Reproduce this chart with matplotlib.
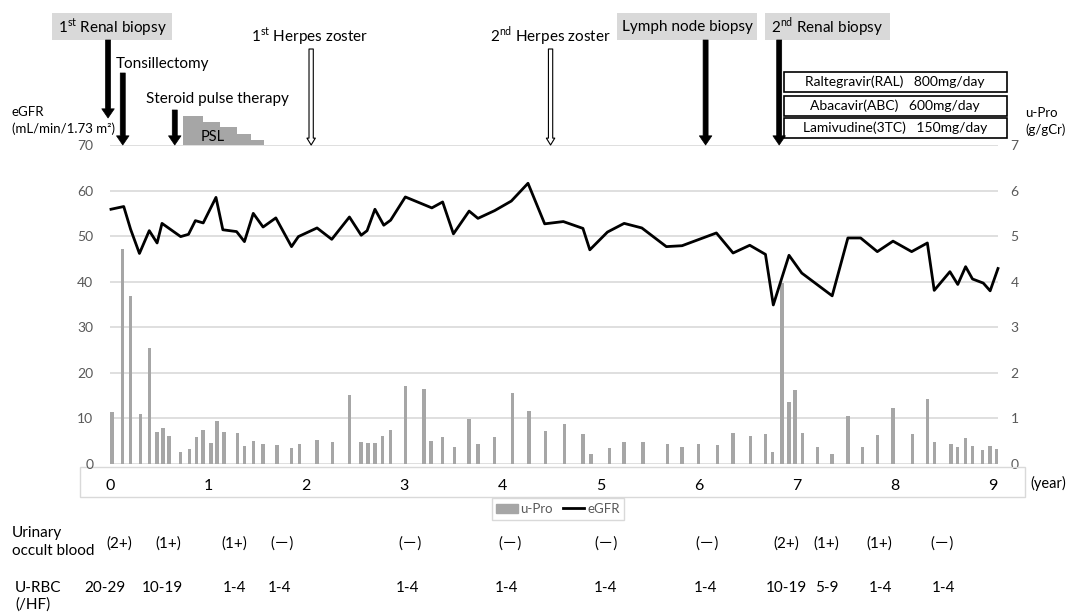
import matplotlib.pyplot as plt
import matplotlib.transforms as mtransforms
from matplotlib.patches import Rectangle, Patch
from matplotlib.lines import Line2D

plt.rcParams['font.family'] = ['Lato', 'Noto Sans CJK JP', 'DejaVu Sans']
plt.rcParams['mathtext.fontset'] = 'custom'
plt.rcParams['mathtext.rm'] = 'Lato'

W, H = 1066, 614

# eGFR (mL/min/1.73 m2), left axis
egfr_year = [0.01, 0.14, 0.21, 0.30, 0.40, 0.48, 0.53, 0.72, 0.80, 0.87, 0.95, 1.08,
             1.15, 1.29, 1.37, 1.46, 1.56, 1.69, 1.85, 1.92, 2.11, 2.26, 2.44, 2.56,
             2.62, 2.70, 2.79, 2.86, 3.01, 3.28, 3.39, 3.50, 3.66, 3.75, 3.92, 4.09,
             4.26, 4.43, 4.62, 4.82, 4.89, 5.07, 5.24, 5.42, 5.67, 5.83, 6.18, 6.35,
             6.52, 6.68, 6.76, 6.92, 7.05, 7.36, 7.52, 7.65, 7.82, 7.98, 8.17, 8.33,
             8.40, 8.56, 8.64, 8.72, 8.79, 8.90, 8.97, 9.05]
egfr = [55.9, 56.5, 51.5, 46.2, 51.2, 48.5, 52.8, 49.9, 50.4, 53.4, 52.9, 58.5,
        51.4, 51.0, 48.8, 55.0, 52.0, 54.0, 47.7, 49.9, 51.8, 49.3, 54.2, 50.2,
        51.2, 55.9, 52.4, 53.5, 58.6, 56.2, 57.5, 50.5, 55.5, 53.9, 55.6, 57.7,
        61.6, 52.7, 53.2, 51.7, 47.0, 50.9, 52.8, 51.8, 47.7, 47.9, 50.7, 46.3,
        48.0, 46.0, 34.9, 45.8, 41.9, 36.9, 49.6, 49.6, 46.6, 48.9, 46.6, 48.5,
        38.1, 42.2, 39.4, 43.3, 40.6, 39.7, 38.0, 42.9]

# urinary protein (g/gCr), right axis
upro_year = [0.02, 0.13, 0.21, 0.31, 0.40, 0.48, 0.54, 0.60, 0.72, 0.81, 0.88, 0.95,
             1.03, 1.09, 1.16, 1.30, 1.37, 1.46, 1.56, 1.70, 1.85, 1.93, 2.11, 2.27,
             2.44, 2.56, 2.63, 2.70, 2.78, 2.86, 3.01, 3.20, 3.27, 3.39, 3.51, 3.66,
             3.75, 3.92, 4.10, 4.27, 4.44, 4.63, 4.82, 4.90, 5.09, 5.24, 5.43, 5.68,
             5.83, 6.00, 6.19, 6.35, 6.53, 6.68, 6.75, 6.85, 6.92, 6.98, 7.06, 7.21,
             7.36, 7.52, 7.67, 7.82, 7.98, 8.18, 8.33, 8.40, 8.57, 8.64, 8.72, 8.79,
             8.89, 8.97, 9.04]
upro = [1.15, 4.72, 3.69, 1.09, 2.54, 0.70, 0.78, 0.61, 0.26, 0.33, 0.59, 0.75,
        0.46, 0.95, 0.70, 0.68, 0.39, 0.51, 0.44, 0.42, 0.36, 0.44, 0.52, 0.49,
        1.51, 0.49, 0.46, 0.46, 0.61, 0.74, 1.71, 1.65, 0.51, 0.60, 0.37, 0.99,
        0.44, 0.60, 1.56, 1.17, 0.73, 0.87, 0.65, 0.21, 0.36, 0.49, 0.49, 0.43,
        0.37, 0.43, 0.41, 0.69, 0.62, 0.65, 0.26, 3.97, 1.37, 1.63, 0.68, 0.38,
        0.21, 1.05, 0.37, 0.64, 1.23, 0.65, 1.42, 0.49, 0.43, 0.37, 0.56, 0.40,
        0.31, 0.40, 0.32]

# prednisolone taper (drawn as steps above the plot)
psl_start = [0.74, 0.95, 1.12, 1.29, 1.44]
psl_end = [0.95, 1.12, 1.29, 1.44, 1.57]
psl_level = [6.4, 5.0, 4.0, 2.4, 1.1]

# event times (years)
event_year = {'renal1': -0.02, 'tonsil': 0.13, 'steroid': 0.66, 'hz1': 2.05,
              'hz2': 4.49, 'lymph': 6.07, 'renal2': 6.82}

drugs = ['Raltegravir(RAL)   800mg/day', 'Abacavir(ABC)   600mg/day',
         'Lamivudine(3TC)   150mg/day']

occult_year = [0.10, 0.59, 1.27, 1.75, 3.06, 4.08, 5.06, 6.08, 6.89, 7.30, 7.84, 8.48]
occult = ['(2+)', '(1+)', '(1+)', '(－)', '(－)', '(－)', '(－)', '(－)',
          '(2+)', '(1+)', '(1+)', '(－)']
rbc_year = [-0.05, 0.53, 1.27, 1.73, 3.03, 4.04, 5.05, 6.07, 6.89, 7.31, 7.85, 8.49]
rbc = ['20-29', '10-19', '1-4', '1-4', '1-4', '1-4', '1-4', '1-4',
       '10-19', '5-9', '1-4', '1-4']

BAR = '#a6a6a6'
GRID = '#d9d9d9'
TICK = '#595959'


def fx(px):
    return px / W


def fy(py):
    return 1 - py / H


fig = plt.figure(figsize=(W / 100, H / 100), dpi=100)
ax = fig.add_axes([fx(110), fy(464), 888 / W, 319 / H])
ax2 = ax.twinx()

ax2.bar(upro_year, upro, width=0.035, color=BAR, zorder=2)
ax.plot(egfr_year, egfr, color='black', lw=2, zorder=3, clip_on=False)

ax.set_zorder(ax2.get_zorder() + 1)
ax.patch.set_visible(False)

ax.set_xlim(0, 9.05)
ax.set_ylim(0, 70)
ax2.set_ylim(0, 7)
ax.set_yticks(range(0, 71, 10))
ax2.set_yticks(range(0, 8))
ax2.grid(axis='y', color=GRID, lw=1.2, zorder=0)
ax2.set_axisbelow(True)
ax.set_xticks(range(10))
for a in (ax, ax2):
    for s in a.spines.values():
        s.set_visible(False)
ax.tick_params(axis='x', length=0, pad=11, labelsize=11.5)
ax.tick_params(axis='y', length=0, pad=12, labelcolor=TICK, labelsize=10)
ax2.tick_params(axis='y', length=0, pad=9, labelcolor=TICK, labelsize=10)

# x axis frame
fig.add_artist(Rectangle((fx(80), fy(497)), (1025 - 80) / W, 30 / H,
                         transform=fig.transFigure, fc='none', ec=GRID, lw=1))
fig.text(fx(1030), fy(483), '(year)', fontsize=10.5, va='center')

# PSL steps
for s, e, lv in zip(psl_start, psl_end, psl_level):
    ax.bar(s, lv, width=e - s, bottom=70, align='edge', color=BAR, clip_on=False)
fig.text(fx(213), fy(137), 'PSL', fontsize=10.5, ha='center', va='center')

trans = mtransforms.blended_transform_factory(ax.transData, fig.transFigure)


def arrow(year, top, tip, filled=True):
    if filled:
        style = 'simple,head_length=0.55,head_width=0.75,tail_width=0.3'
        props = dict(arrowstyle=style, fc='black', ec='black', lw=0.5,
                     mutation_scale=12, shrinkA=0, shrinkB=0)
    else:
        style = 'simple,head_length=0.45,head_width=0.55,tail_width=0.28'
        props = dict(arrowstyle=style, fc='white', ec='black', lw=0.8,
                     mutation_scale=11, shrinkA=0, shrinkB=0)
    ax.annotate('', xy=(year, fy(tip)), xycoords=trans, xytext=(year, fy(top)),
                textcoords=trans, arrowprops=props, annotation_clip=False)


def gray_box(x0, x1, label):
    fig.add_artist(Rectangle((fx(x0), fy(40)), (x1 - x0) / W, 27 / H,
                             transform=fig.transFigure, fc=GRID, ec='none'))
    fig.text(fx((x0 + x1) / 2), fy(27), label, fontsize=11, ha='center', va='center')


gray_box(52, 172, r'1$^{\mathrm{st}}$ Renal biopsy')
gray_box(617, 757, 'Lymph node biopsy')
gray_box(765, 890, r'2$^{\mathrm{nd}}$ Renal biopsy')

arrow(event_year['renal1'], 40, 118)
arrow(event_year['tonsil'], 73, 145)
arrow(event_year['steroid'], 110, 145)
arrow(event_year['hz1'], 49, 145, filled=False)
arrow(event_year['hz2'], 49, 145, filled=False)
arrow(event_year['lymph'], 40, 145)
arrow(event_year['renal2'], 40, 145)

fig.text(fx(116), fy(64), 'Tonsillectomy', fontsize=11, va='center')
fig.text(fx(146), fy(99), 'Steroid pulse therapy', fontsize=11, va='center')
fig.text(fx(310), fy(36), r'1$^{\mathrm{st}}$ Herpes zoster', fontsize=11,
         ha='center', va='center')
fig.text(fx(550), fy(36), r'2$^{\mathrm{nd}}$ Herpes zoster', fontsize=11,
         ha='center', va='center')

for i, (t, b) in enumerate([(72, 92), (96, 116), (118, 138)]):
    fig.add_artist(Rectangle((fx(784), fy(b)), (1007 - 784) / W, (b - t) / H,
                             transform=fig.transFigure, fc='white', ec='black', lw=1.2))
    fig.text(fx(895), fy((t + b) / 2), drugs[i], fontsize=10, ha='center', va='center')

# axis titles
fig.text(fx(12), fy(112), 'eGFR', fontsize=9.5, va='center')
fig.text(fx(12), fy(129), '(mL/min/1.73 m²)', fontsize=9.5, va='center')
fig.text(fx(1025), fy(113), 'u-Pro', fontsize=9.5, va='center')
fig.text(fx(1025), fy(130), '(g/gCr)', fontsize=9.5, va='center')

# legend
handles = [Patch(color=BAR, label='u-Pro'),
           Line2D([], [], color='black', lw=2, label='eGFR')]
fig.legend(handles=handles, loc='center', bbox_to_anchor=(fx(558), fy(509)), ncol=2,
           fontsize=9.5, labelcolor=TICK, handlelength=1.6, handletextpad=0.2,
           columnspacing=0.8, fancybox=False, edgecolor=GRID, borderpad=0.35,
           framealpha=1)

# urinalysis rows
fig.text(fx(12), fy(533), 'Urinary', fontsize=11, va='center')
fig.text(fx(12), fy(551), 'occult blood', fontsize=11, va='center')
fig.text(fx(15), fy(588), 'U-RBC', fontsize=11, va='center')
fig.text(fx(15), fy(605), '(/HF)', fontsize=11, va='center')
for yr, s in zip(occult_year, occult):
    ax.text(yr, fy(544), s, transform=trans, fontsize=11, ha='center', va='center')
for yr, s in zip(rbc_year, rbc):
    ax.text(yr, fy(588), s, transform=trans, fontsize=11, ha='center', va='center')

fig.savefig('out.png', dpi=100)
